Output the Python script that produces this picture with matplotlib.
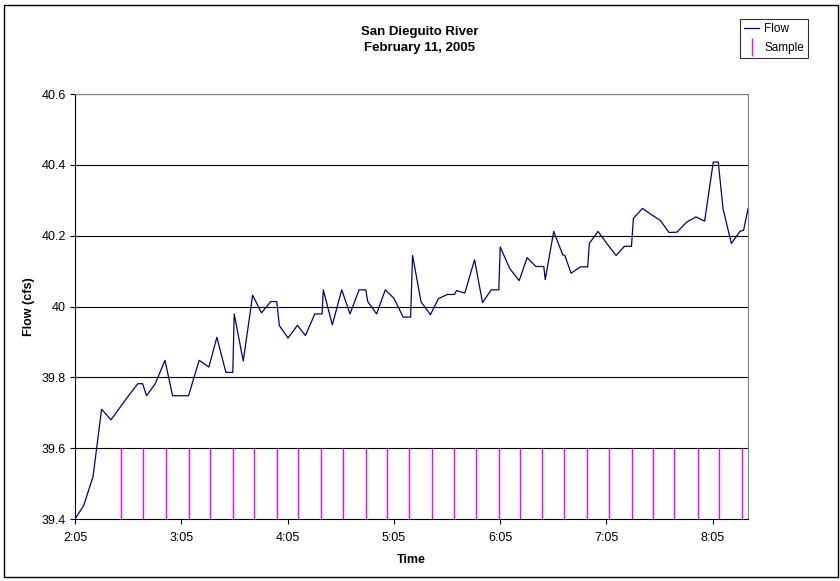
import matplotlib
matplotlib.use("Agg")
import matplotlib.pyplot as plt
from matplotlib.lines import Line2D
from matplotlib.patches import Rectangle

plt.rcParams['font.family'] = ['Liberation Sans', 'DejaVu Sans']

# minutes after 2:05
flow_t = [0, 4.9, 10.2, 15.0, 20.3, 25.4, 30.5, 35.5, 38.2, 40.4,
          45.3, 50.8, 55.1, 60.0, 64.1, 70.1, 75.6, 80.1, 85.2, 89.1,
          89.9, 95.0, 100.3, 105.3, 110.5, 113.9, 115.4, 120.3, 125.6, 130.1,
          135.4, 139.5, 140.2, 145.3, 150.6, 155.3, 160.4, 164.2, 165.3, 170.3,
          175.2, 180.1, 185.3, 189.5, 190.6, 195.4, 200.7, 205.2, 210.2, 214.3,
          215.4, 220.1, 225.6, 230.1, 235.0, 239.3, 240.1, 245.5, 250.8, 255.3,
          260.2, 264.7, 265.5, 270.3, 275.4, 276.5, 280.1, 285.4, 289.5, 290.4,
          295.3, 300.4, 305.5, 310.2, 314.2, 315.3, 320.4, 325.3, 330.5, 335.4,
          339.9, 345.3, 350.6, 355.5, 360.4, 363.2, 365.9, 370.6, 375.6, 377.5,
          380.0]
flow_v = [39.400, 39.438, 39.520, 39.710, 39.680, 39.715, 39.750, 39.782, 39.782, 39.748,
          39.782, 39.848, 39.748, 39.748, 39.748, 39.848, 39.829, 39.913, 39.814, 39.814,
          39.979, 39.846, 40.032, 39.982, 40.014, 40.014, 39.946, 39.911, 39.947, 39.918,
          39.979, 39.979, 40.047, 39.948, 40.047, 39.979, 40.047, 40.047, 40.014, 39.979,
          40.047, 40.023, 39.970, 39.970, 40.144, 40.013, 39.977, 40.022, 40.034, 40.034,
          40.045, 40.038, 40.132, 40.011, 40.047, 40.047, 40.168, 40.107, 40.073, 40.138,
          40.113, 40.113, 40.076, 40.212, 40.146, 40.145, 40.094, 40.112, 40.112, 40.178,
          40.212, 40.177, 40.144, 40.170, 40.170, 40.249, 40.277, 40.260, 40.243, 40.209,
          40.210, 40.238, 40.253, 40.241, 40.408, 40.408, 40.276, 40.178, 40.213, 40.215,
          40.276]

sample_t = [25.9, 38.2, 51.3, 64.1, 76.1, 89.2, 101.1, 113.9, 125.9, 139.1,
            151.1, 164.3, 176.4, 188.8, 201.5, 213.9, 226.2, 239.3, 251.5, 263.7,
            276.3, 289.1, 301.3, 314.5, 326.3, 338.3, 351.5, 363.6, 376.6]
sample_v = [39.6] * len(sample_t)

x_ticks = [0, 60, 120, 180, 240, 300, 360]
x_labels = ['2:05', '3:05', '4:05', '5:05', '6:05', '7:05', '8:05']
y_ticks = [39.4, 39.6, 39.8, 40.0, 40.2, 40.4, 40.6]
y_labels = ['39.4', '39.6', '39.8', '40', '40.2', '40.4', '40.6']

fig = plt.figure(figsize=(8.4, 5.81), dpi=100)
ax = fig.add_axes([75 / 840, 62 / 581, 673 / 840, 425 / 581])

# outer chart border
fig.patches.append(Rectangle((4 / 840, 4 / 581), 834 / 840, 572 / 581,
                             transform=fig.transFigure, fill=False,
                             edgecolor='black', linewidth=1.0))

for y in y_ticks[1:]:
    ax.axhline(y, color='black', linewidth=0.8, zorder=1)

ax.plot(flow_t, flow_v, color='#000080', linewidth=0.9, zorder=3)
ax.vlines(sample_t, 39.4, sample_v, color='#FF00FF', linewidth=1.0, zorder=2)

ax.set_xlim(0, 380)
ax.set_ylim(39.4, 40.6)
ax.set_xticks(x_ticks)
ax.set_xticklabels(x_labels)
ax.set_yticks(y_ticks)
ax.set_yticklabels(y_labels)
ax.tick_params(axis='both', direction='out', length=3.5, width=0.8,
               labelsize=9, colors='black')
ax.tick_params(axis='x', pad=6)
ax.tick_params(axis='y', pad=3)

for s in ['left', 'bottom']:
    ax.spines[s].set_color('black')
    ax.spines[s].set_linewidth(0.8)
for s in ['right', 'top']:
    ax.spines[s].set_color('#808080')
    ax.spines[s].set_linewidth(0.8)

ax.set_xlabel('Time', fontsize=9, fontweight='bold', labelpad=7)
ax.set_ylabel('Flow (cfs)', fontsize=9, fontweight='bold', labelpad=5)

fig.text(0.5, 1 - 32 / 581, 'San Dieguito River', ha='center', va='center',
         fontsize=9.5, fontweight='bold')
fig.text(0.5, 1 - 48 / 581, 'February 11, 2005', ha='center', va='center',
         fontsize=9.5, fontweight='bold')

handles = [Line2D([], [], color='#000080', linewidth=0.9),
           Line2D([], [], color='#FF00FF', marker='|', linestyle='None',
                  markersize=13, markeredgewidth=1.0)]
leg = fig.legend(handles, ['Flow', 'Sample'], loc='upper right',
                 bbox_to_anchor=(808 / 840, 1 - 19 / 581), fontsize=8.5,
                 frameon=True, fancybox=False, edgecolor='black',
                 borderpad=0.35, handlelength=1.3, handletextpad=0.4,
                 labelspacing=0.6, borderaxespad=0)
leg.get_frame().set_linewidth(0.8)

fig.savefig('out.png', dpi=100)
